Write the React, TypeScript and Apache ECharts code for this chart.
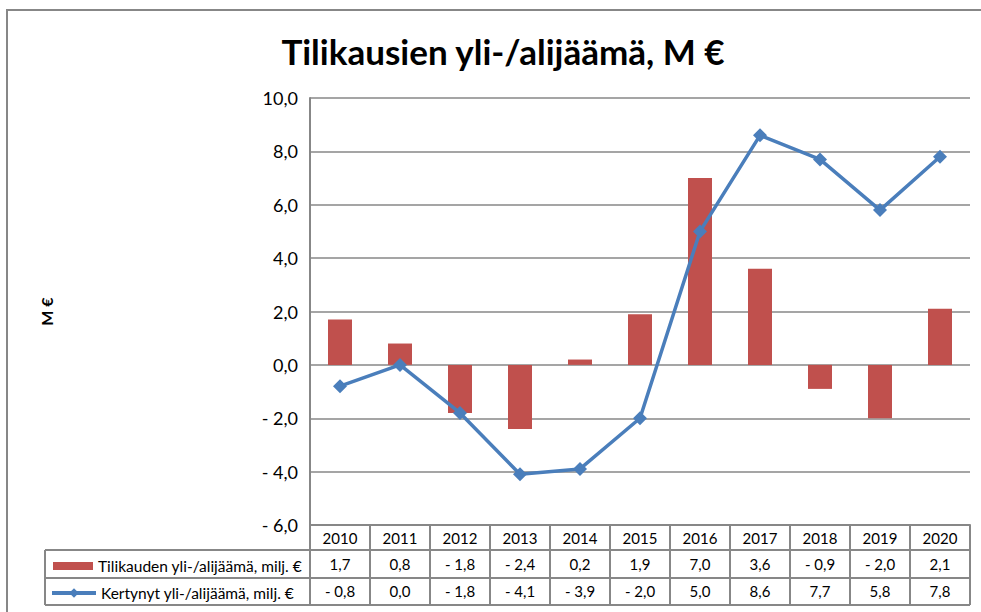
import React, { useEffect, useRef } from "react";
import * as echarts from "echarts";

const years = ["2010", "2011", "2012", "2013", "2014", "2015", "2016", "2017", "2018", "2019", "2020"];
const barValues = [1.7, 0.8, -1.8, -2.4, 0.2, 1.9, 7.0, 3.6, -0.9, -2.0, 2.1];
const lineValues = [-0.8, 0.0, -1.8, -4.1, -3.9, -2.0, 5.0, 8.6, 7.7, 5.8, 7.8];
const barName = "Tilikauden yli-/alijäämä, milj. €";
const lineName = "Kertynyt yli-/alijäämä, milj. €";
const title = "Tilikausien yli-/alijäämä, M €";
const yName = "M €";

const fmt = (v: number) => {
  const s = Math.abs(v).toFixed(1).replace(".", ",");
  return v < 0 ? "- " + s : s;
};

const FONT = "Lato, 'Noto Sans', sans-serif";
const GRID_L = 310;
const GRID_R = 970;
const GRID_T = 98;
const GRID_B = 525;
const GRAY = "#878787";
const BLUE = "#4A7EBB";

export default function App() {
  const ref = useRef<HTMLDivElement>(null);
  useEffect(() => {
    const chart = echarts.init(ref.current!, null, { renderer: "svg" });
    const hidden = { show: false };
    chart.setOption({
      animation: false,
      backgroundColor: "#ffffff",
      title: {
        text: title,
        left: 498,
        textAlign: "center",
        top: 28,
        textStyle: { fontFamily: FONT, fontWeight: "bold", fontSize: 35, color: "#000" },
      },
      grid: { left: GRID_L, top: GRID_T, width: GRID_R - GRID_L, height: GRID_B - GRID_T, containLabel: false },
      legend: [
        {
          data: [{ name: barName, icon: "rect" }],
          left: 53,
          top: 558,
          padding: 0,
          itemWidth: 40,
          itemHeight: 8,
          textStyle: { fontFamily: FONT, fontSize: 15.5, color: "#000" },
          selectedMode: false,
        },
        {
          data: [{ name: lineName, lineStyle: { width: 4, color: BLUE } }],
          left: 50,
          top: 585,
          padding: 0,
          itemWidth: 44,
          itemHeight: 12,
          textStyle: { fontFamily: FONT, fontSize: 15.5, color: "#000" },
          selectedMode: false,
        },
      ],
      xAxis: [
        {
          type: "category",
          data: years,
          position: "bottom",
          axisLine: { show: true, onZero: false, lineStyle: { color: GRAY, width: 2 } },
          axisTick: { show: true, length: 80, lineStyle: { color: GRAY, width: 2 } },
          axisLabel: { margin: 13, verticalAlign: "middle", fontFamily: FONT, fontSize: 15, color: "#000" },
          splitLine: hidden,
        },
        {
          type: "category",
          data: barValues.map(fmt),
          position: "bottom",
          offset: 0,
          axisLine: { show: false, onZero: false },
          axisTick: hidden,
          axisLabel: { margin: 39, verticalAlign: "middle", fontFamily: FONT, fontSize: 15, color: "#000" },
        },
        {
          type: "category",
          data: lineValues.map(fmt),
          position: "bottom",
          offset: 0,
          axisLine: { show: false, onZero: false },
          axisTick: hidden,
          axisLabel: { margin: 66, verticalAlign: "middle", fontFamily: FONT, fontSize: 15, color: "#000" },
        },
      ],
      yAxis: {
        type: "value",
        min: -6,
        max: 10,
        interval: 2,
        name: yName,
        nameLocation: "middle",
        nameGap: 256,
        nameRotate: 90,
        nameTextStyle: { fontFamily: FONT, fontWeight: "bold", fontSize: 16, color: "#000" },
        axisLine: { show: true, lineStyle: { color: GRAY, width: 2 } },
        axisTick: hidden,
        axisLabel: {
          margin: 12,
          fontFamily: FONT,
          fontSize: 18,
          color: "#000",
          formatter: (v: number) => fmt(v),
        },
        splitLine: { show: true, lineStyle: { color: GRAY, width: 1.5 } },
      },
      series: [
        {
          name: barName,
          type: "bar",
          data: barValues,
          barWidth: "40%",
          itemStyle: { color: "#C0504D" },
        },
        {
          name: lineName,
          type: "line",
          data: lineValues,
          symbol: "diamond",
          symbolSize: 14,
          lineStyle: { color: BLUE, width: 3.5 },
          itemStyle: { color: BLUE },
          z: 5,
        },
      ],
      graphic: [
        {
          type: "rect",
          shape: { x: 7, y: 10, width: 1000, height: 700 },
          style: { fill: "none", stroke: GRAY, lineWidth: 2 },
          silent: true,
        },
        { type: "line", shape: { x1: 45, y1: 550, x2: GRID_R, y2: 550 }, style: { stroke: GRAY, lineWidth: 2 } },
        { type: "line", shape: { x1: 45, y1: 578, x2: GRID_R, y2: 578 }, style: { stroke: GRAY, lineWidth: 2 } },
        { type: "line", shape: { x1: 45, y1: 605, x2: GRID_R, y2: 605 }, style: { stroke: GRAY, lineWidth: 2 } },
        { type: "line", shape: { x1: 45, y1: 550, x2: 45, y2: 605 }, style: { stroke: GRAY, lineWidth: 2 } },
      ],
    });
    return () => chart.dispose();
  }, []);
  return <div ref={ref} style={{ width: 981, height: 612, position: "absolute", left: 0, top: 0 }} />;
}
